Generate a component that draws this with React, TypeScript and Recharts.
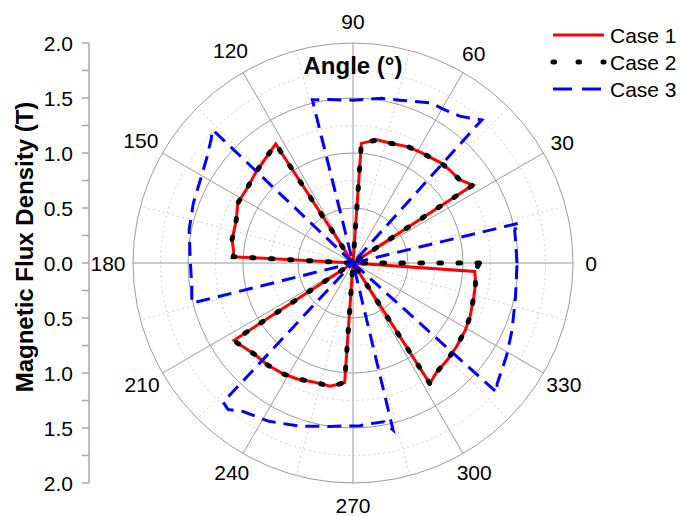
import {
  RadarChart,
  Radar,
  PolarGrid,
  PolarAngleAxis,
  PolarRadiusAxis,
  Legend,
  LineChart,
  XAxis,
  YAxis,
} from "recharts";

// [angle (deg), flux density (T)]
const CASE_1: [number, number][] = [
  [33, 1.3], [38, 1.23], [44, 1.22], [49, 1.21], [58, 1.18], [64.5, 1.17], [73, 1.14], [79, 1.14], [86, 1.09], [88, 0],
  [123, 1.29], [136.5, 1.21], [144, 1.18], [152.5, 1.18], [160, 1.13], [169, 1.12], [174.5, 1.09], [177, 1.09], [178, 0],
  [213, 1.29], [214.5, 1.28], [218, 1.25], [223, 1.22], [230, 1.21], [238, 1.19], [244, 1.17], [251.5, 1.14], [259.5, 1.14], [266, 1.09], [267, 0],
  [302.5, 1.3], [307.5, 1.25], [314, 1.23], [321, 1.21], [329, 1.19], [335.5, 1.17], [344.5, 1.14], [350.5, 1.13], [356, 1.11], [357, 0],
];

const CASE_2: [number, number][] = [
  [0, 1.15], [1, 0],
  [33, 1.3], [38, 1.23], [44, 1.22], [49, 1.21], [58, 1.18], [64.5, 1.17], [73, 1.14], [79, 1.14], [86, 1.09], [88, 0],
  [123, 1.29], [136.5, 1.21], [144, 1.18], [152.5, 1.18], [160, 1.13], [169, 1.12], [174.5, 1.09], [177, 1.09], [178, 0],
  [213, 1.29], [214.5, 1.28], [218, 1.25], [223, 1.22], [230, 1.21], [238, 1.19], [244, 1.17], [251.5, 1.14], [259.5, 1.14], [266, 1.09], [267, 0],
  [302.5, 1.3], [307.5, 1.25], [314, 1.23], [321, 1.21], [329, 1.19], [335.5, 1.17], [344.5, 1.14], [350.5, 1.13], [356, 1.11],
];

const CASE_3: [number, number][] = [
  [0, 1.49], [6, 1.49], [11.5, 1.5], [13.5, 1.56], [15, 0],
  [48, 1.75], [54, 1.65], [60, 1.62], [64, 1.62], [74, 1.54], [80, 1.52], [90, 1.48], [98, 1.5], [104, 1.53], [105, 0],
  [136.5, 1.76], [139, 1.71], [144, 1.64], [151.5, 1.58], [159.5, 1.55], [168.5, 1.52], [179, 1.48], [188, 1.48], [194, 1.51], [195, 0],
  [227, 1.73], [229.5, 1.75], [233.5, 1.68], [242, 1.63], [252, 1.56], [262, 1.5], [272.5, 1.48], [276, 1.47], [281, 1.47], [283.5, 1.56], [285, 0],
  [318, 1.76], [320, 1.71], [329, 1.63], [337, 1.57], [348, 1.51], [358.5, 1.49],
];

const ANGLE_TICKS = [0, 30, 60, 90, 120, 150, 180, 210, 240, 270, 300, 330];
const MINOR_ANGLES = [15, 45, 75, 105, 135, 165, 195, 225, 255, 285, 315, 345];
const MAJOR_RINGS = [0.5, 1, 1.5, 2];
const MINOR_RINGS = [0.25, 0.75, 1.25, 1.75];
const FLUX_TICKS = [-2, -1.75, -1.5, -1.25, -1, -0.75, -0.5, -0.25, 0, 0.25, 0.5, 0.75, 1, 1.25, 1.5, 1.75, 2];

const FONT = "'Liberation Sans', Arial, sans-serif";
const W = 681;
const H = 516;
const CX = 353;
const CY = 263;
const OUTER = 220;
const R_MAX = 2;

const toRows = (s: [number, number][]) => s.map(([angle, b]) => ({ angle, b }));
const ringPx = (v: number) => (v / R_MAX) * OUTER;

const SERIES = [
  { key: "case1", name: "Case 1", points: CASE_1, color: "#ff0000", width: 3, dash: undefined, cap: "butt", legendDash: undefined },
  { key: "case2", name: "Case 2", points: CASE_2, color: "#000000", width: 5, dash: "2.5 16.5", cap: "round", legendDash: "1.5 23.5" },
  { key: "case3", name: "Case 3", points: CASE_3, color: "#0000ff", width: 3, dash: "14 8", cap: "butt", legendDash: "19 10" },
];

function AngleTick(props: any) {
  const a = Number(props.payload.value);
  const label = String(a);
  const rad = (a * Math.PI) / 180;
  const s = Math.sin(rad);
  const r = OUTER + 18 + 3.5 * (label.length - 1) - (s < 0 ? 3 * -s : 0);
  return (
    <text
      x={CX + r * Math.cos(rad)}
      y={CY - r * s}
      textAnchor="middle"
      dominantBaseline="central"
      fontSize={21}
      fontFamily={FONT}
      fill="#000"
    >
      {label}
    </text>
  );
}

function FluxTick(props: any) {
  const { x, y, payload } = props;
  const v = Number(payload.value);
  if (Math.abs(v * 2 - Math.round(v * 2)) > 1e-6) return <g />;
  return (
    <text x={x} y={y} textAnchor="end" dominantBaseline="central" fontSize={21} fontFamily={FONT} fill="#000">
      {Math.abs(v).toFixed(1)}
    </text>
  );
}

function LegendBox() {
  return (
    <svg width={133} height={84}>
      {SERIES.map((l, i) => {
        const y = 17 + i * 27;
        return (
          <g key={l.key}>
            <line
              x1={5}
              x2={56}
              y1={y}
              y2={y}
              stroke={l.color}
              strokeWidth={l.width}
              strokeDasharray={l.legendDash}
              strokeLinecap={l.cap as any}
            />
            <text x={62} y={y} dominantBaseline="central" fontSize={21} fontFamily={FONT} fill="#000">
              {l.name}
            </text>
          </g>
        );
      })}
    </svg>
  );
}

function FluxLabel(props: any) {
  const vb = props.viewBox || { x: 0, y: 43, height: 440 };
  const yc = vb.y + vb.height / 2 - 16;
  return (
    <text
      transform={`translate(33, ${yc}) rotate(-90)`}
      textAnchor="middle"
      fontSize={24}
      fontWeight="bold"
      fontFamily={FONT}
      fill="#000"
    >
      Magnetic Flux Density (T)
    </text>
  );
}

const layer: React.CSSProperties = { position: "absolute", left: 0, top: 0 };

export default function App() {
  return (
    <div style={{ position: "absolute", left: 0, top: 0, width: W, height: H, background: "#fff" }}>
      {SERIES.map((s, i) => (
        <div key={s.key} style={layer}>
          <RadarChart
            width={W}
            height={H}
            data={toRows(s.points)}
            cx={CX}
            cy={CY}
            outerRadius={OUTER}
            startAngle={0}
            endAngle={360}
            margin={{ top: 0, right: 0, bottom: 0, left: 0 }}
          >
            {i === 0 && (
              <PolarGrid
                gridType="circle"
                polarRadius={MINOR_RINGS.map(ringPx)}
                polarAngles={MINOR_ANGLES}
                stroke="#cfcfcf"
                strokeDasharray="2 3"
              />
            )}
            {i === 0 && (
              <PolarGrid
                gridType="circle"
                polarRadius={MAJOR_RINGS.map(ringPx)}
                polarAngles={ANGLE_TICKS}
                stroke="#9a9a9a"
              />
            )}
            <PolarAngleAxis
              dataKey="angle"
              type="number"
              domain={[0, 360]}
              ticks={ANGLE_TICKS as any}
              tick={i === 0 ? AngleTick : false}
              tickLine={false}
              axisLine={false}
            />
            <PolarRadiusAxis domain={[0, R_MAX]} type="number" tick={false} axisLine={false} />
            <Radar
              dataKey="b"
              name={s.name}
              stroke={s.color}
              strokeWidth={s.width}
              strokeDasharray={s.dash}
              strokeLinecap={s.cap as any}
              fill="none"
              dot={false}
              isAnimationActive={false}
            />
            {i === 2 && (
              <Legend
                content={() => <LegendBox />}
                wrapperStyle={{ position: "absolute", left: 548, top: 18, width: 133 }}
              />
            )}
          </RadarChart>
        </div>
      ))}
      <svg width={W} height={H} style={{ ...layer, pointerEvents: "none" }}>
        <text x={CX} y={74} textAnchor="middle" fontSize={24} fontWeight="bold" fontFamily={FONT} fill="#000">
          Angle (°)
        </text>
      </svg>
      <div style={layer}>
        <LineChart
          width={120}
          height={H}
          data={FLUX_TICKS.map((v) => ({ v }))}
          margin={{ top: 43, right: 30, bottom: 33, left: 0 }}
        >
          <XAxis hide />
          <YAxis
            dataKey="v"
            type="number"
            width={89}
            domain={[-2, 2]}
            ticks={FLUX_TICKS}
            interval={0}
            tick={FluxTick}
            tickSize={7}
            tickMargin={9}
            stroke="#a8a8a8"
            strokeWidth={1.5}
            label={{ content: FluxLabel }}
          />
        </LineChart>
      </div>
    </div>
  );
}
